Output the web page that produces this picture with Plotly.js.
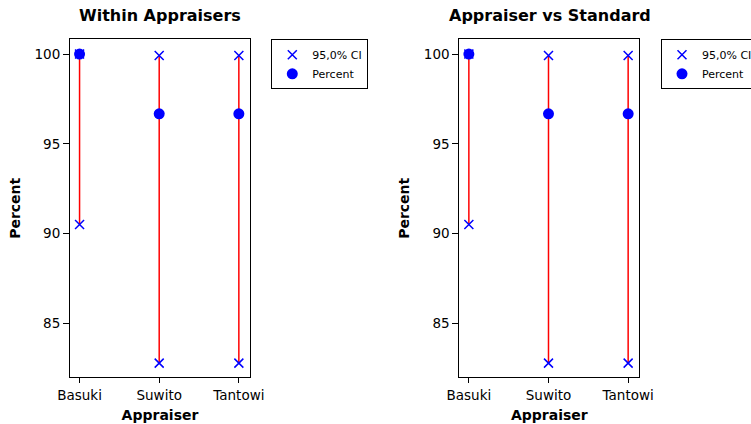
<!DOCTYPE html>
<html>
<head>
<meta charset="utf-8">
<script src="https://cdn.plot.ly/plotly-3.0.1.min.js"></script>
<style>html,body{margin:0;padding:0;background:#fff;}#chart{width:751px;height:424px;}</style>
</head>
<body>
<div id="chart"></div>
<script>
// Data
const appraisers = ["Basuki", "Suwito", "Tantowi"];
// Within Appraisers
const withinPercent = [100, 96.67, 96.67];
const withinLower = [90.5, 82.78, 82.78];
const withinUpper = [100, 99.92, 99.92];
// Appraiser vs Standard
const vsPercent = [100, 96.67, 96.67];
const vsLower = [90.5, 82.78, 82.78];
const vsUpper = [100, 99.92, 99.92];
const yTicks = [85, 90, 95, 100];

const BLUE = "#0000FF", RED = "#FF0000";
const FONT = "DejaVu Sans";

function ciLine(lo, hi, xa, ya) {
  const x = [], y = [];
  appraisers.forEach((a, i) => { x.push(a, a, null); y.push(lo[i], hi[i], null); });
  return {x, y, xaxis: xa, yaxis: ya, mode: "lines", type: "scatter",
    line: {color: RED, width: 1.5}, showlegend: false, hoverinfo: "skip"};
}
function ciMarks(lo, hi, xa, ya, leg) {
  return {x: appraisers.concat(appraisers), y: hi.concat(lo), xaxis: xa, yaxis: ya,
    mode: "markers", type: "scatter", name: "95,0% CI", legend: leg,
    marker: {symbol: "x-thin-open", size: 9, color: BLUE, line: {color: BLUE, width: 1.5}}};
}
function pctMarks(p, xa, ya, leg) {
  return {x: appraisers, y: p, xaxis: xa, yaxis: ya, mode: "markers", type: "scatter",
    name: "Percent", legend: leg, marker: {symbol: "circle", size: 11, color: BLUE}};
}

const data = [
  ciLine(withinLower, withinUpper, "x", "y"),
  ciMarks(withinLower, withinUpper, "x", "y", "legend"),
  pctMarks(withinPercent, "x", "y", "legend"),
  ciLine(vsLower, vsUpper, "x2", "y2"),
  ciMarks(vsLower, vsUpper, "x2", "y2", "legend2"),
  pctMarks(vsPercent, "x2", "y2", "legend2")
];

const W = 751, H = 424;
const yDom = [1 - 377.3 / H, 1 - 39.3 / H];
function xAxis(dom, anchor) {
  return {domain: dom, anchor: anchor, type: "category", range: [-0.12, 2.14],
    showline: true, mirror: true, linecolor: "#000", linewidth: 1,
    ticks: "outside", ticklen: 5, tickcolor: "#000", showgrid: false, zeroline: false,
    tickfont: {family: FONT, size: 13.5, color: "#000"},
    title: {text: "Appraiser", standoff: 8, font: {family: FONT, size: 14, color: "#000", weight: "bold"}},
    fixedrange: true};
}
function yAxis(anchor) {
  return {domain: yDom, anchor: anchor, range: [81.99, 100.82], tickvals: yTicks,
    ticktext: yTicks.map(String),
    showline: true, mirror: true, linecolor: "#000", linewidth: 1,
    ticks: "outside", ticklen: 6, tickcolor: "#000", showgrid: false, zeroline: false,
    tickfont: {family: FONT, size: 13.5, color: "#000"},
    title: {text: "Percent", standoff: 10, font: {family: FONT, size: 14, color: "#000", weight: "bold"}},
    fixedrange: true};
}
function legendAt(xpx) {
  return {x: xpx / W, y: 1 - 39.3 / H, xanchor: "left", yanchor: "top", xref: "paper", yref: "paper",
    bgcolor: "#fff", bordercolor: "#000", borderwidth: 1, itemwidth: 30,
    font: {family: FONT, size: 11, color: "#000"}, tracegroupgap: 0};
}

const layout = {
  width: W, height: H, paper_bgcolor: "#fff", plot_bgcolor: "#fff",
  margin: {l: 0, r: 0, t: 0, b: 0, autoexpand: false},
  xaxis: xAxis([70 / W, 250 / W], "y"),
  yaxis: yAxis("x"),
  xaxis2: xAxis([459.3 / W, 639.3 / W], "y2"),
  yaxis2: yAxis("x2"),
  legend: legendAt(271.3),
  legend2: legendAt(661),
  annotations: [
    {text: "<b>Within Appraisers</b>", x: 160 / W, y: 1 - 16 / H, xref: "paper", yref: "paper",
      xanchor: "center", yanchor: "middle", showarrow: false, font: {family: FONT, size: 16, color: "#000"}},
    {text: "<b>Appraiser vs Standard</b>", x: 549.5 / W, y: 1 - 16 / H, xref: "paper", yref: "paper",
      xanchor: "center", yanchor: "middle", showarrow: false, font: {family: FONT, size: 16, color: "#000"}}
  ],
  showlegend: true
};

Plotly.newPlot("chart", data, layout, {displayModeBar: false, staticPlot: true});
</script>
</body>
</html>
